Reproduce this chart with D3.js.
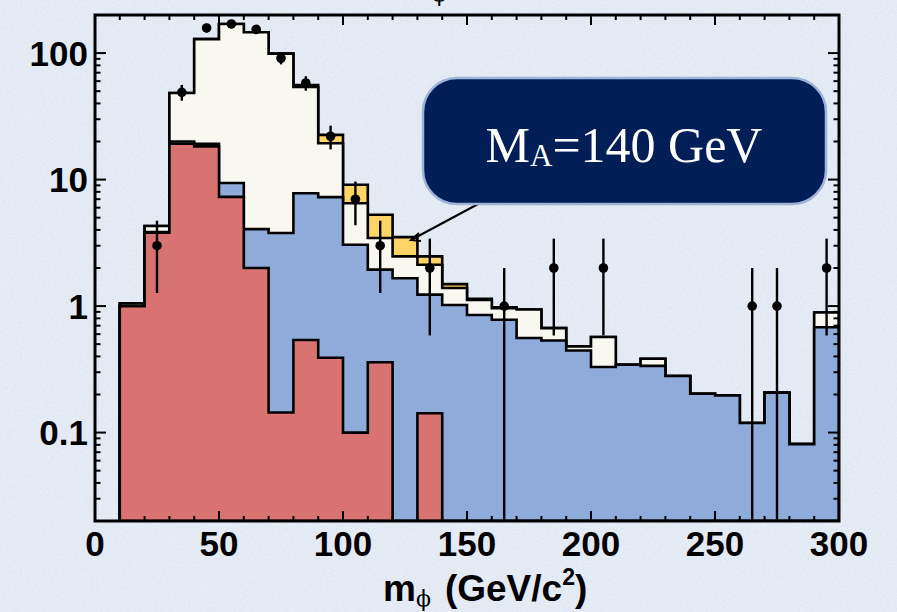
<!DOCTYPE html>
<html>
<head>
<meta charset="utf-8">
<script src="https://cdn.jsdelivr.net/npm/d3@7"></script>
<style>
  html, body { margin: 0; padding: 0; background: #E4EBF5; }
  svg { display: block; }
</style>
</head>
<body>
<svg id="chart" width="897" height="612"></svg>
<script>
// ---------- DATA ----------
const binLow = [10,20,30,40,50,60,70,80,90,100,110,120,130,140,150,160,170,180,190,200,210,220,230,240,250,260,270,280,290];
const binWidth = 10;
// stacked components (bottom to top)
const redVals    = [1.0,3.8,19.2,18.3,7.3,2.0,0.144,0.54,0.39,0.10,0.36,0,0.142,0,0,0,0,0,0,0,0,0,0,0,0,0,0,0,0];
const blueVals   = [0,0.05,0.8,0.9,2.1,2.06,3.64,7.26,6.88,2.95,1.58,1.66,1.09,1.02,0.85,0.78,0.56,0.535,0.445,0.33,0.344,0.337,0.28,0.203,0.197,0.119,0.207,0.081,0.68];
const creamVals  = [0.05,0.45,28.3,109.8,160.6,142,95.2,46.2,12.1,3.45,1.51,0.81,0.89,0.37,0.27,0.18,0.38,0.135,0.035,0.24,0,0.046,0,0,0,0,0,0,0.21];
const signalVals = [0,0,0,0,0,0,0,2.0,3.2,2.6,1.82,1.04,0.35,0.10,0.02,0.02,0,0,0,0,0,0,0,0,0,0,0,0,0];
const dataX = [25,35,45,55,65,75,85,95,105,115,135,165,185,205,265,275,295];
const dataN = [3,49,158,170,154,91,58,22,7,3,2,1,2,2,1,1,2];
const xTicks = [0,50,100,150,200,250,300];
const yTicks = [0.1,1,10,100];
const yTickLabels = ["0.1","1","10","100"];
const annotation = "140 GeV";

// ---------- LAYOUT ----------
const svg = d3.select("#chart");
const L = 95, R = 839, T = 15, B = 521;
const x = d3.scaleLinear().domain([0,300]).range([L,R]);
const yMin = 0.02, yMax = 200;
const y = d3.scaleLog().domain([yMin,yMax]).range([B,T]).clamp(true);

const colors = { red:"#D87371", blue:"#8FABDA", cream:"#F8F8F1", signal:"#FFD466" };

// background with paper texture
const defs = svg.append("defs");
const f = defs.append("filter").attr("id","paper").attr("x",0).attr("y",0).attr("width","100%").attr("height","100%");
f.append("feTurbulence").attr("type","fractalNoise").attr("baseFrequency","0.35 0.9").attr("numOctaves",3).attr("seed",4).attr("result","n");
f.append("feColorMatrix").attr("in","n").attr("type","matrix")
  .attr("values","0 0 0 0 1  0 0 0 0 1  0 0 0 0 1  0 0 0 -1.4 0.75");
svg.append("rect").attr("width",897).attr("height",612).attr("fill","#E2E9F3");
svg.append("rect").attr("width",897).attr("height",612).attr("filter","url(#paper)").attr("opacity",0.6);

defs.append("clipPath").attr("id","plotclip").append("rect")
  .attr("x",L).attr("y",T).attr("width",R-L).attr("height",B-T);

// ---------- STACK ----------
const rows = binLow.map((lo,i)=>({lo, red:redVals[i], blue:blueVals[i], cream:creamVals[i], signal:signalVals[i]}));
const keys = ["red","blue","cream","signal"];
const stack = d3.stack().keys(keys)(rows);

const plot = svg.append("g").attr("clip-path","url(#plotclip)");
const line = d3.line().x(d=>d[0]).y(d=>d[1]);

function stepPath(layer){
  const pts = [];
  const first = binLow[0], last = binLow[binLow.length-1] + binWidth;
  pts.push([x(first), y(yMin)]);
  layer.forEach((s,i)=>{
    const v = s[1] > 1e-6 ? s[1] : yMin;
    pts.push([x(binLow[i]), y(Math.max(v,yMin))]);
    pts.push([x(binLow[i]+binWidth), y(Math.max(v,yMin))]);
  });
  pts.push([x(last), y(yMin)]);
  return line(pts) + "Z";
}
// draw from top layer down so each outline is visible
for (let k = keys.length-1; k >= 0; k--){
  plot.append("path")
    .attr("d", stepPath(stack[k]))
    .attr("fill", colors[keys[k]])
    .attr("stroke","#000").attr("stroke-width",2.6).attr("stroke-linejoin","miter");
}

// ---------- DATA POINTS ----------
const pts = plot.append("g");
dataX.forEach((cx,i)=>{
  const n = dataN[i], e = Math.sqrt(n);
  const lo = n - e > 0 ? n - e : yMin;
  pts.append("line").attr("x1",x(cx)).attr("x2",x(cx))
    .attr("y1",y(lo)).attr("y2",y(n+e)).attr("stroke","#000").attr("stroke-width",2.4);
  pts.append("circle").attr("cx",x(cx)).attr("cy",y(n)).attr("r",4.8).attr("fill","#000");
});

// ---------- AXES / FRAME ----------
const ax = svg.append("g");
const xMinor = d3.range(0,301,10);
xMinor.forEach(v=>{
  const len = (v % 50 === 0) ? 10 : 5;
  ax.append("line").attr("x1",x(v)).attr("x2",x(v)).attr("y1",B).attr("y2",B-len).attr("stroke","#000").attr("stroke-width",2);
  ax.append("line").attr("x1",x(v)).attr("x2",x(v)).attr("y1",T).attr("y2",T+len).attr("stroke","#000").attr("stroke-width",2);
});
const yMinor = [];
[0.01,0.1,1,10,100].forEach(d=>{ for(let m=1;m<10;m++){ const v=d*m; if(v>=yMin-1e-9 && v<=yMax+1e-9) yMinor.push(v);} });
yMinor.forEach(v=>{
  const major = yTicks.some(t=>Math.abs(t-v)/t<1e-6);
  const len = major ? 11 : 5.5;
  ax.append("line").attr("x1",L).attr("x2",L+len).attr("y1",y(v)).attr("y2",y(v)).attr("stroke","#000").attr("stroke-width",2);
  ax.append("line").attr("x1",R).attr("x2",R-len).attr("y1",y(v)).attr("y2",y(v)).attr("stroke","#000").attr("stroke-width",2);
});
ax.append("rect").attr("x",L).attr("y",T).attr("width",R-L).attr("height",B-T)
  .attr("fill","none").attr("stroke","#000").attr("stroke-width",3);

const labelFont = "'Liberation Sans', Arial, sans-serif";
xTicks.forEach(v=>{
  svg.append("text").attr("x",x(v)).attr("y",556).attr("text-anchor","middle")
    .attr("font-family",labelFont).attr("font-weight","bold").attr("font-size",35).text(v);
});
yTicks.forEach((v,i)=>{
  svg.append("text").attr("x",88).attr("y",y(v)).attr("dy","0.36em").attr("text-anchor","end")
    .attr("font-family",labelFont).attr("font-weight","bold").attr("font-size",35).text(yTickLabels[i]);
});

// x-axis title
const xt = svg.append("text").attr("x",383).attr("y",601)
  .attr("font-family",labelFont).attr("font-weight","bold").attr("font-size",37);
xt.append("tspan").text("m");
xt.append("tspan").attr("font-size",22).attr("font-weight","normal").attr("font-family","'DejaVu Serif', serif").attr("dy",5).text("ϕ");
xt.append("tspan").attr("dy",-5).attr("dx",14).text("(GeV/c");
xt.append("tspan").attr("font-size",23).attr("dy",-16).text("2");
xt.append("tspan").attr("dy",16).text(")");

// cut-off title at top
const tt = svg.append("text").attr("x",405).attr("y",-6)
  .attr("font-family",labelFont).attr("font-weight","bold").attr("font-size",30);
tt.append("tspan").text("m");
tt.append("tspan").attr("font-size",22).attr("font-weight","normal").attr("font-family","'DejaVu Serif', serif").attr("dy",7).text("ϕ");

// ---------- ANNOTATION ----------
const ann = svg.append("g");
ann.append("line").attr("x1",480).attr("y1",203).attr("x2",411).attr("y2",240)
  .attr("stroke","#000").attr("stroke-width",2);
ann.append("path").attr("d","M419,233 L411,240 L421,241").attr("fill","none").attr("stroke","#000").attr("stroke-width",2);
ann.append("rect").attr("x",423).attr("y",78).attr("width",403).attr("height",126).attr("rx",34).attr("ry",34)
  .attr("fill","#021E56").attr("stroke","#9DB3D8").attr("stroke-width",2.5);
const at = ann.append("text").attr("x",624).attr("y",162).attr("text-anchor","middle")
  .attr("font-family","'Liberation Serif', 'Times New Roman', serif").attr("font-size",50).attr("fill","#fff");
at.append("tspan").text("M");
at.append("tspan").attr("font-size",31).attr("dy",4).text("A");
at.append("tspan").attr("dy",-4).text("=" + annotation);
</script>
</body>
</html>
